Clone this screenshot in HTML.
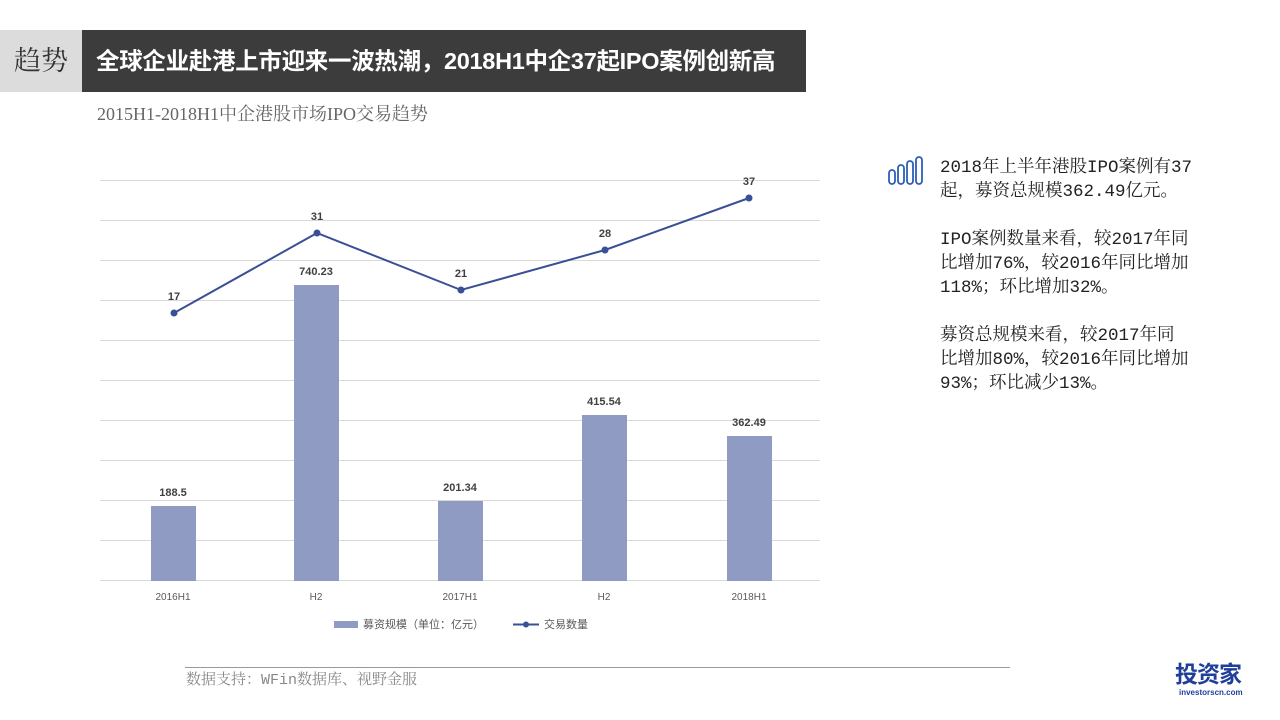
<!DOCTYPE html>
<html><head><meta charset="utf-8"><style>
body{margin:0;width:1280px;height:720px;background:#fff;position:relative;overflow:hidden;font-family:"Liberation Sans","Noto Sans CJK SC",sans-serif}
.a{position:absolute;white-space:nowrap}
.serif{font-family:"Liberation Serif","Noto Serif CJK SC",serif}
.mono{font-family:"Liberation Mono","Noto Serif CJK SC",serif}
</style></head><body>
<div class="a" style="left:0;top:30px;width:82px;height:62px;background:#dcdcdc"></div>
<div class="a serif" style="left:0;top:30px;width:82px;height:62px;line-height:62px;text-align:center;font-size:27px;color:#333">趋势</div>
<div class="a" style="left:82px;top:30px;width:724px;height:62px;background:#3c3c3c"></div>
<div class="a" style="left:96px;top:30px;height:62px;line-height:62px;font-size:23.5px;font-weight:bold;color:#fff;letter-spacing:-0.3px">全球企业赴港上市迎来一波热潮，2018H1中企37起IPO案例创新高</div>
<div class="a serif" style="left:97px;top:100px;font-size:18px;color:#666">2015H1-2018H1中企港股市场IPO交易趋势</div>
<svg class="a" style="left:0;top:0" width="1280" height="720">
<g stroke="#d9d9d9" stroke-width="1">
<line x1="100" x2="820" y1="180.5" y2="180.5"/><line x1="100" x2="820" y1="220.5" y2="220.5"/><line x1="100" x2="820" y1="260.5" y2="260.5"/><line x1="100" x2="820" y1="300.5" y2="300.5"/><line x1="100" x2="820" y1="340.5" y2="340.5"/><line x1="100" x2="820" y1="380.5" y2="380.5"/><line x1="100" x2="820" y1="420.5" y2="420.5"/><line x1="100" x2="820" y1="460.5" y2="460.5"/><line x1="100" x2="820" y1="500.5" y2="500.5"/><line x1="100" x2="820" y1="540.5" y2="540.5"/><line x1="100" x2="820" y1="580.5" y2="580.5"/>
</g>
<g fill="#8f9bc3">
<rect x="151" y="506" width="45" height="75"/><rect x="294" y="285" width="45" height="296"/><rect x="438" y="501" width="45" height="80"/><rect x="582" y="415" width="45" height="166"/><rect x="727" y="436" width="45" height="145"/>
</g>
<polyline points="174,313 317,233 461,290 605,250 749,198" fill="none" stroke="#3a5095" stroke-width="2"/>
<g fill="#3a5095"><circle cx="174" cy="313" r="3.5"/><circle cx="317" cy="233" r="3.5"/><circle cx="461" cy="290" r="3.5"/><circle cx="605" cy="250" r="3.5"/><circle cx="749" cy="198" r="3.5"/></g>
<g font-size="11" font-weight="bold" fill="#404040" text-anchor="middle" font-family="Liberation Sans,sans-serif">
<text x="174" y="300">17</text><text x="317" y="220">31</text><text x="461" y="277">21</text><text x="605" y="237">28</text><text x="749" y="185">37</text>
<text x="173" y="496">188.5</text><text x="316" y="275">740.23</text><text x="460" y="491">201.34</text><text x="604" y="405">415.54</text><text x="749" y="426">362.49</text>
</g>
<g font-size="10" fill="#595959" text-anchor="middle" font-family="Liberation Sans,sans-serif">
<text x="173" y="600">2016H1</text><text x="316" y="600">H2</text><text x="460" y="600">2017H1</text><text x="604" y="600">H2</text><text x="749" y="600">2018H1</text>
</g>
<rect x="334" y="621" width="24" height="7" fill="#8f9bc3"/>
<text x="363" y="628" font-size="11" fill="#595959" font-family="Liberation Sans,Noto Sans CJK SC,sans-serif">募资规模（单位：亿元）</text>
<line x1="513" x2="539" y1="624.5" y2="624.5" stroke="#3a5095" stroke-width="2"/><circle cx="526" cy="624.5" r="3" fill="#3a5095"/>
<text x="544" y="628" font-size="11" fill="#595959" font-family="Liberation Sans,Noto Sans CJK SC,sans-serif">交易数量</text>
<line x1="185" x2="1010" y1="667.5" y2="667.5" stroke="#999"/>
<g fill="none" stroke="#2e5eb8" stroke-width="1.8">
<rect x="889" y="170" width="6" height="14" rx="3"/><rect x="898" y="165" width="6" height="19" rx="3"/><rect x="907" y="161" width="6" height="23" rx="3"/><rect x="916" y="157" width="6" height="27" rx="3"/>
</g>
</svg>
<div class="a mono" style="left:940px;top:156px;font-size:17.5px;line-height:24px;color:#222">2018年上半年港股IPO案例有37<br>起，募资总规模362.49亿元。<br><br>IPO案例数量来看，较2017年同<br>比增加76%，较2016年同比增加<br>118%；环比增加32%。<br><br>募资总规模来看，较2017年同<br>比增加80%，较2016年同比增加<br>93%；环比减少13%。</div>
<div class="a mono" style="left:186px;top:668px;font-size:15px;color:#888">数据支持：WFin数据库、视野金服</div>
<div class="a" style="left:1175px;top:661px;font-size:23px;line-height:26px;font-weight:bold;color:#1f3f9a;letter-spacing:-1px">投资家</div>
<div class="a" style="left:1179px;top:688px;font-size:8px;line-height:9px;font-weight:bold;color:#1f3f9a">investorscn.com</div>
</body></html>
